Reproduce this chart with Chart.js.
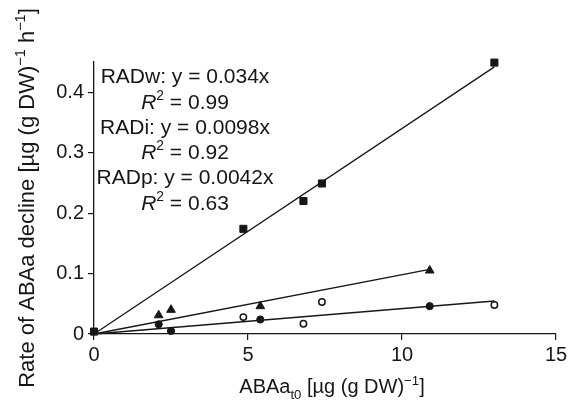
<!DOCTYPE html>
<html>
<head>
<meta charset="utf-8">
<script src="https://cdn.jsdelivr.net/npm/chart.js@4.4.1/dist/chart.umd.min.js"></script>
<style>
  html, body { margin: 0; padding: 0; background: #fff; }
  .chart-box { width: 571px; height: 407px; position: relative; }
</style>
</head>
<body>
<div class="chart-box"><canvas id="abaChart"></canvas></div>
<script>
// measured points, ABAa t0 (x) vs. rate of decline (y)
const radwX = [0, 4.85, 6.8, 7.4, 13];
const radwY = [0.004, 0.174, 0.22, 0.249, 0.449];
const radiX = [2.1, 2.5, 5.4, 10.9];
const radiY = [0.031, 0.04, 0.046, 0.105];
const radpFilledX = [2.1, 2.5, 5.4, 10.9];
const radpFilledY = [0.016, 0.005, 0.024, 0.046];
const radpOpenX = [4.85, 6.8, 7.4, 13];
const radpOpenY = [0.028, 0.017, 0.053, 0.048];

// regression lines through the origin
const fitNames = ['RADw', 'RADi', 'RADp'];
const fitSlopes = ['0.034', '0.0098', '0.0042'];
const fitR2 = ['0.99', '0.92', '0.63'];
const fitEndX = [13, 10.9, 13];

const xTicks = [0, 5, 10, 15];
const yTicks = [0, 0.1, 0.2, 0.3, 0.4];

const FONT = 'Liberation Sans, Arial, Helvetica, sans-serif';
const INK = '#161616';

const pts = (xs, ys) => xs.map((x, i) => ({ x: x, y: ys[i] }));

function markers(label, data, style, radius, fill) {
    return {
        label: label,
        data: data,
        pointStyle: style,
        pointRadius: radius,
        pointHoverRadius: radius,
        pointBackgroundColor: fill,
        pointBorderColor: INK,
        pointBorderWidth: fill === '#fff' ? 1.5 : 1,
        showLine: false,
        clip: false,
        order: 0,
    };
}

let datasets = [
    markers('RADw', pts(radwX, radwY), 'rect', 5, INK),
    markers('RADi', pts(radiX, radiY), 'triangle', 5, INK),
    markers('RADp filled', pts(radpFilledX, radpFilledY), 'circle', 3.6, INK),
    markers('RADp open', pts(radpOpenX, radpOpenY), 'circle', 3.2, '#fff'),
];

for (let i = 0; i < fitNames.length; i++) {
    const k = parseFloat(fitSlopes[i]);
    datasets.push({
        label: fitNames[i] + ' fit',
        data: [{ x: 0, y: 0 }, { x: fitEndX[i], y: k * fitEndX[i] }],
        showLine: true,
        borderColor: INK,
        borderWidth: 1.3,
        pointRadius: 0,
        clip: false,
        order: 1,
    });
}

// text with italic / superscript / subscript runs
function richText(ctx, parts, x, y, size, align) {
    const fontOf = p => (p.italic ? 'italic ' : '') + ((p.sup || p.sub) ? size * 0.66 : size) + 'px ' + FONT;
    let total = 0;
    parts.forEach(p => {
        ctx.font = fontOf(p);
        p.w = ctx.measureText(p.text).width;
        total += p.w;
    });
    let cx = align === 'center' ? x - total / 2 : x;
    parts.forEach(p => {
        ctx.font = fontOf(p);
        const dy = p.sup ? -size * 0.42 : (p.sub ? size * 0.28 : 0);
        ctx.fillText(p.text, cx, y + dy);
        cx += p.w;
    });
}

const textPlugin = {
    id: 'abaText',
    afterDraw(chart) {
        const ctx = chart.ctx;
        ctx.save();
        ctx.fillStyle = INK;
        ctx.textAlign = 'left';
        ctx.textBaseline = 'alphabetic';

        // equations block
        const cx = 185;
        let base = 83;
        for (let i = 0; i < fitNames.length; i++) {
            richText(ctx, [{ text: fitNames[i] + ': y = ' + fitSlopes[i] + 'x' }], cx, base, 21, 'center');
            base += 25.5;
            richText(ctx, [{ text: 'R', italic: true }, { text: '2', sup: true }, { text: ' = ' + fitR2[i] }], cx, base, 21, 'center');
            base += 25;
        }

        // x axis title
        richText(ctx, [
            { text: 'ABAa' }, { text: 't0', sub: true },
            { text: ' [µg (g DW)' }, { text: '−1', sup: true }, { text: ']' },
        ], 332, 393, 20, 'center');

        // y axis title
        ctx.translate(34, 198);
        ctx.rotate(-Math.PI / 2);
        richText(ctx, [
            { text: 'Rate of ABAa decline [µg (g DW)' }, { text: '−1', sup: true },
            { text: ' h' }, { text: '−1', sup: true }, { text: ']' },
        ], 0, 0, 22, 'center');

        ctx.restore();
    }
};

const axisStyle = {
    grid: { display: true, drawOnChartArea: false, drawTicks: true, tickLength: 6, color: INK, lineWidth: 1.2 },
    border: { display: true, color: INK, width: 1.3 },
};

new Chart(document.getElementById('abaChart'), {
    type: 'scatter',
    data: { datasets: datasets },
    options: {
        responsive: true,
        maintainAspectRatio: false,
        animation: false,
        layout: { padding: { top: 62, right: 15, bottom: 0, left: 0 } },
        scales: {
            x: {
                type: 'linear',
                min: 0,
                max: 15,
                ...axisStyle,
                ticks: { color: INK, font: { family: FONT, size: 20 }, padding: 3 },
                afterBuildTicks: s => { s.ticks = xTicks.map(v => ({ value: v })); },
                afterFit: s => { s.height = 73; },
            },
            y: {
                type: 'linear',
                min: 0,
                max: 0.45,
                ...axisStyle,
                ticks: { color: INK, font: { family: FONT, size: 20 }, padding: 4, callback: v => String(v) },
                afterBuildTicks: s => { s.ticks = yTicks.map(v => ({ value: v })); },
                afterFit: s => { s.width = 94; },
            },
        },
        plugins: {
            legend: { display: false },
            tooltip: { enabled: false },
        },
    },
    plugins: [textPlugin],
});
</script>
</body>
</html>
